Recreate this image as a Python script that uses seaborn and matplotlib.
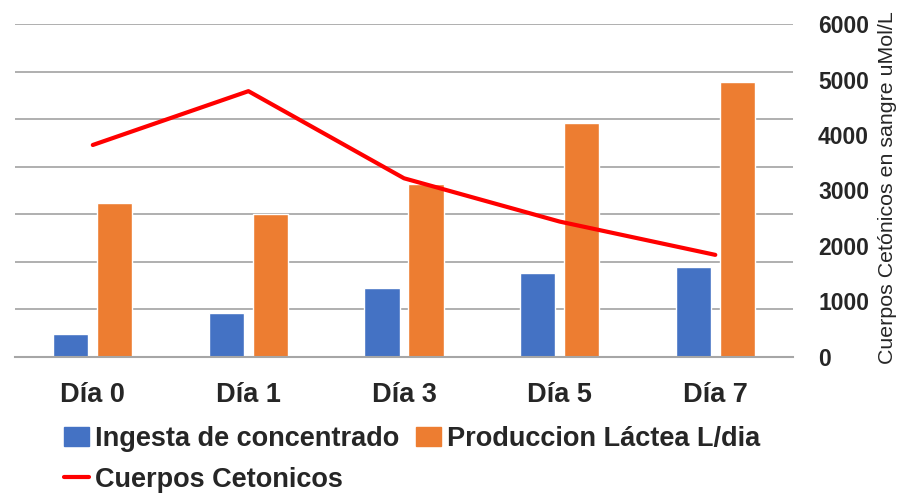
import matplotlib
matplotlib.use('Agg')
import matplotlib.pyplot as plt
import pandas as pd
import seaborn as sns
from matplotlib.patches import Patch
from matplotlib.lines import Line2D

dias = ['Día 0', 'Día 1', 'Día 3', 'Día 5', 'Día 7']
ingesta = [2.4, 4.6, 7.2, 8.8, 9.5]
produccion = [16.2, 15.0, 18.2, 24.6, 28.9]
cetonicos = [3820, 4790, 3220, 2440, 1840]

sns.set_style('white')
plt.rcParams['font.family'] = ['Liberation Sans', 'DejaVu Sans']
plt.rcParams['font.weight'] = 'bold'

azul = '#4472C4'
naranja = '#ED7D31'
rojo = '#FF0000'

df = pd.DataFrame({'Dia': dias * 2,
                   'valor': ingesta + produccion,
                   'serie': ['Ingesta de concentrado'] * 5 + ['Produccion Láctea L/dia'] * 5})

fig = plt.figure(figsize=(9.19, 4.93), dpi=100)
ax = fig.add_axes([0.0163, 0.2759, 0.8467, 0.6754])

sns.barplot(data=df, x='Dia', y='valor', hue='serie', palette=[azul, naranja],
            width=0.565, gap=0.2, ax=ax, legend=False, saturation=1)
ax.set_ylim(0, 35)
ax.set_yticks(range(0, 36, 5))
ax.set_yticklabels([])
ax.tick_params(axis='y', length=0)
ax.tick_params(axis='x', length=0, pad=18, labelsize=19.5)
ax.set_xlim(-0.5, 4.5)
ax.set_xlabel('')
ax.set_ylabel('')
ax.yaxis.grid(True, color='#9a9a9a', linewidth=1.1)
ax.set_axisbelow(True)
for s in ['left', 'right', 'top']:
    ax.spines[s].set_visible(False)
ax.spines['bottom'].set_color('#a6a6a6')
ax.spines['bottom'].set_linewidth(1.5)

ax2 = ax.twinx()
sns.lineplot(x=list(range(5)), y=cetonicos, color=rojo, linewidth=3, ax=ax2)
ax2.set_ylim(0, 6000)
ax2.set_yticks(range(0, 6001, 1000))
ax2.tick_params(axis='y', length=0, pad=18, labelsize=16.5)
for lab in ax2.get_yticklabels():
    lab.set_fontweight('bold')
for s in ['left', 'right', 'top', 'bottom']:
    ax2.spines[s].set_visible(False)
ax2.set_ylabel('Cuerpos Cetónicos en sangre uMol/L', fontsize=15.4, fontweight='normal')
ax2.yaxis.set_label_coords(1.109, 0.51)

handles = [Patch(color=azul), Line2D([], [], color=rojo, linewidth=3), Patch(color=naranja)]
labels = ['Ingesta de concentrado', 'Cuerpos Cetonicos', 'Produccion Láctea L/dia']
fig.legend(handles, labels, ncol=2, loc='upper left', bbox_to_anchor=(0.0696, 0.136),
           frameon=False, fontsize=19.5, handlelength=0.93, handleheight=0.75,
           handletextpad=0.22, columnspacing=0.6, labelspacing=0.55,
           borderaxespad=0, borderpad=0)

fig.savefig('out.png', dpi=100)
